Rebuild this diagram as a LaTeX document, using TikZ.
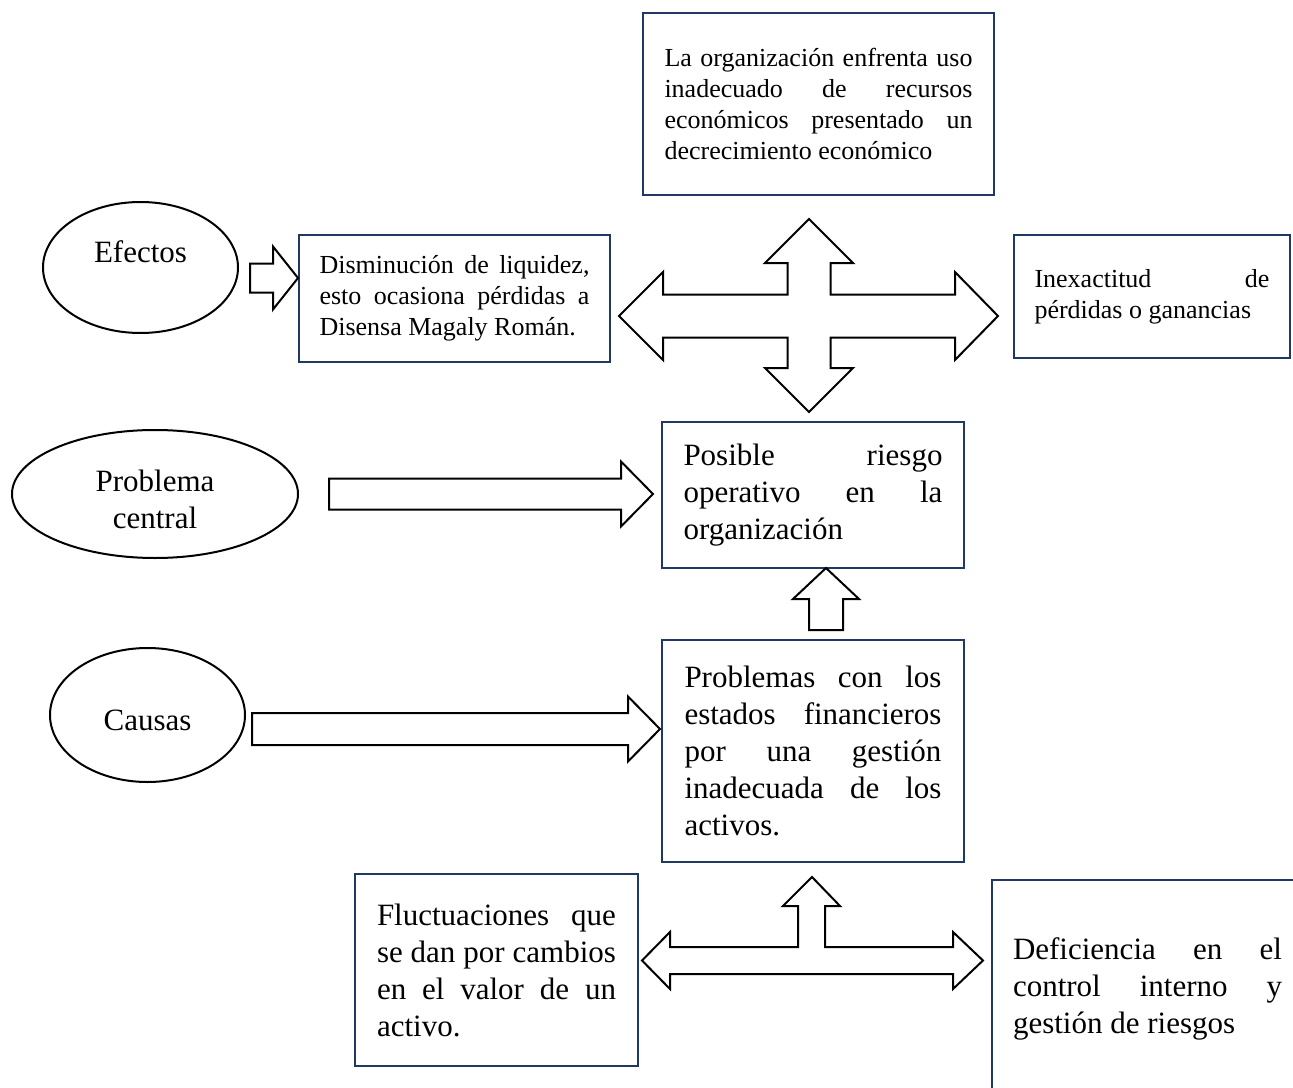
\documentclass[tikz,border=0pt]{standalone}
\usepackage{fontspec}
\setmainfont{Liberation Serif}
\usetikzlibrary{shapes.geometric,calc}
\definecolor{boxblue}{HTML}{1F3864}
\newdimen\px \px=0.75pt
\newcommand{\smalltxt}{\fontsize{19.5}{23.25}\selectfont}
\newcommand{\bigtxt}{\fontsize{23.25}{27.75}\selectfont}
\hyphenpenalty=10000
\hbadness=10000
\tikzset{
  box/.style={draw=boxblue, line width=1.2pt, align=justify, inner sep=0pt},
  oval/.style={draw, ellipse, line width=1.5pt, inner sep=0pt},
  fatarrow/.style={draw, line width=1.5pt, fill=white, line join=miter},
}
% block arrows: tail, tip, shaft half width, head half width, head length
\newcommand{\harrow}[5]{%
  \draw[fatarrow] ($(#1)+(0,-#3)$) -- ($(#2)+(-#5,-#3)$) -- ($(#2)+(-#5,-#4)$) -- (#2)
    -- ($(#2)+(-#5,#4)$) -- ($(#2)+(-#5,#3)$) -- ($(#1)+(0,#3)$) -- cycle;}
\newcommand{\varrow}[5]{%
  \draw[fatarrow] ($(#1)+(-#3,0)$) -- ($(#2)+(-#3,#5)$) -- ($(#2)+(-#4,#5)$) -- (#2)
    -- ($(#2)+(#4,#5)$) -- ($(#2)+(#3,#5)$) -- ($(#1)+(#3,0)$) -- cycle;}

\begin{document}
\begin{tikzpicture}[x=0.75pt,y=-0.75pt]
  \useasboundingbox (0,0) rectangle (1293,1088);
  \clip (0,0) rectangle (1293,1088);

  % boxes
  \node[box, minimum width=351\px, minimum height=182\px, text width=308\px, font=\smalltxt] (org) at (818.5,104)
    {La~organización~enfrenta~uso\linebreak inadecuado~de~recursos\linebreak económicos~presentado~un\linebreak decrecimiento~económico};
  \node[box, minimum width=311\px, minimum height=127\px, text width=270\px, font=\smalltxt] (dism) at (454.5,298.5)
    {Disminución~de~liquidez,\linebreak esto~ocasiona~pérdidas~a\linebreak Disensa~Magaly~Román.};
  \node[box, minimum width=276\px, minimum height=123\px, text width=235\px, font=\smalltxt] (inex) at (1152,296.5)
    {Inexactitud~de\linebreak pérdidas~o~ganancias};
  \node[box, minimum width=302\px, minimum height=146\px, text width=259\px, font=\bigtxt] (posible) at (813,495)
    {Posible~riesgo\linebreak operativo~en~la\linebreak organización};
  \node[box, minimum width=302\px, minimum height=222\px, text width=257\px, font=\bigtxt] (probl) at (813,751)
    {Problemas~con~los\linebreak estados~financieros\linebreak por~una~gestión\linebreak inadecuada~de~los\linebreak activos.};
  \node[box, minimum width=283\px, minimum height=192\px, text width=239\px, font=\bigtxt] (fluct) at (496.5,970)
    {Fluctuaciones~que\linebreak se~dan~por~cambios\linebreak en~el~valor~de~un\linebreak activo.};
  \node[box, minimum width=311\px, minimum height=218\px, text width=269\px, font=\bigtxt] (defic) at (1147.5,989)
    {Deficiencia~en~el\linebreak control~interno~y\linebreak gestión~de~riesgos};

  % ovals
  \node[oval, minimum width=195\px, minimum height=131\px] (efectos) at (140.5,267.5) {};
  \node[font=\bigtxt] (efectostxt) at (140.5,252) {Efectos};
  \node[oval, minimum width=286\px, minimum height=128\px] (problema) at (155,494) {};
  \node[font=\bigtxt, align=center] (problematxt) at (155,499) {Problema\\central};
  \node[oval, minimum width=195\px, minimum height=134\px] (causas) at (147.5,715) {};
  \node[font=\bigtxt] (causastxt) at (147.5,720) {Causas};

  % arrows
  \coordinate (efA) at (250,278);  \coordinate (efB) at (298,278);
  \coordinate (prA) at (329,494);  \coordinate (prB) at (653,494);
  \coordinate (caA) at (252,729);  \coordinate (caB) at (660,729);
  \coordinate (upA) at (826,630);  \coordinate (upB) at (826,568);
  \harrow{efA}{efB}{14.5}{31.5}{25}
  \harrow{prA}{prB}{15.5}{32.5}{32}
  \harrow{caA}{caB}{16}{32.5}{32}
  \varrow{upA}{upB}{17}{33}{31}

  \draw[fatarrow] (619,316) -- (663,272) -- (663,294.5) -- (787.5,294.5) -- (787.5,263) -- (765,263)
    -- (809,219) -- (853,263) -- (830.5,263) -- (830.5,294.5) -- (955,294.5) -- (955,272)
    -- (998,316) -- (955,360) -- (955,337.5) -- (830.5,337.5) -- (830.5,368) -- (853,368)
    -- (809,412) -- (765,368) -- (787.5,368) -- (787.5,337.5) -- (663,337.5) -- (663,360) -- cycle;

  \draw[fatarrow] (642,960.5) -- (670,932) -- (670,947) -- (798,947) -- (798,906) -- (783,906)
    -- (812,877) -- (840,906) -- (825,906) -- (825,947) -- (953,947) -- (953,932)
    -- (983,960.5) -- (953,989) -- (953,974) -- (670,974) -- (670,989) -- cycle;
\end{tikzpicture}
\end{document}
